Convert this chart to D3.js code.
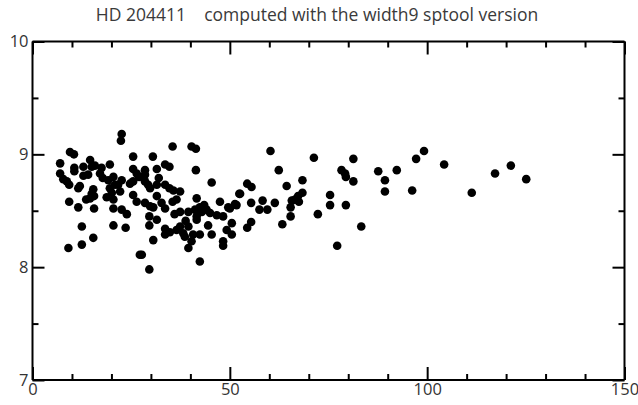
<!DOCTYPE html>
<html>
<head>
<meta charset="utf-8">
<script src="https://cdn.jsdelivr.net/npm/d3@7"></script>
<style>
  body { margin: 0; background: #fff; }
  svg { display: block; }
</style>
</head>
<body>
<svg id="chart"></svg>
<script>
// values
const titleText = "HD 204411    computed with the width9 sptool version";
const xMajor = [0, 50, 100, 150];
const xMinor = [10, 20, 30, 40, 60, 70, 80, 90, 110, 120, 130, 140];
const yMajor = [7, 8, 9, 10];
const yMinor = [7.5, 8.5, 9.5];

const xs = [
    22.6, 22.4, 9.5, 10.5, 7.0, 25.5, 10.6, 10.6, 12.9, 14.6, 15.0, 15.8, 17.5, 19.6,
    7.0, 7.8, 8.7, 9.3, 12.9, 14.1, 17.1, 17.8, 19.2, 20.5, 22.6, 21.7, 24.7, 25.5,
    12.0, 11.6, 15.4, 15.0, 14.6, 13.6, 15.6, 19.6, 20.1, 18.8, 20.5, 22.2, 20.9, 25.5,
    26.4, 9.3, 11.6, 15.6, 20.5, 22.6, 23.9, 12.5, 20.5, 23.6, 15.4, 12.5, 9.1, 27.2,
    35.5, 40.3, 41.4, 30.5, 33.6, 34.7, 31.5, 41.4, 45.4, 25.5, 26.4, 28.5, 28.5, 28.5,
    29.3, 29.8, 31.5, 33.6, 34.7, 35.7, 37.4, 28.5, 29.8, 30.6, 31.5, 32.7, 33.6, 35.5,
    36.5, 41.6, 47.5, 49.6, 51.7, 52.6, 37.4, 39.5, 41.2, 42.4, 42.9, 44.1, 45.0, 46.7,
    48.3, 29.6, 31.5, 41.6, 41.6, 29.6, 44.5, 50.5, 33.6, 33.6, 34.8, 36.5, 37.4, 38.2,
    39.5, 40.7, 38.6, 42.4, 45.4, 49.2, 50.5, 30.6, 40.3, 39.5, 48.3, 48.3, 27.7, 42.4,
    29.6, 36.0, 38.8, 43.5, 32.0, 27.0,
    60.3, 71.3, 81.3, 87.6, 62.4, 78.3, 79.2, 79.4, 81.3, 54.4, 55.5, 64.4, 68.4, 52.4,
    68.4, 67.3, 75.4, 51.3, 50.0, 55.4, 58.3, 61.4, 57.5, 59.5, 65.7, 66.5, 65.4, 67.5,
    75.4, 79.4, 72.3, 65.4, 63.3, 55.4, 54.4, 83.3, 77.2,
    99.2, 97.2, 104.3, 92.3, 89.3, 89.3, 96.2, 111.3, 117.2, 121.2, 125.1
];
const ys = [
    9.18, 9.12, 9.02, 9.00, 8.92, 8.98, 8.88, 8.85, 8.89, 8.95, 8.89, 8.90, 8.88, 8.91,
    8.83, 8.78, 8.76, 8.73, 8.81, 8.82, 8.83, 8.79, 8.77, 8.80, 8.77, 8.73, 8.74, 8.76,
    8.72, 8.70, 8.69, 8.65, 8.61, 8.60, 8.63, 8.70, 8.66, 8.62, 8.60, 8.67, 8.73, 8.64,
    8.58, 8.58, 8.53, 8.52, 8.52, 8.51, 8.47, 8.36, 8.37, 8.35, 8.26, 8.20, 8.17, 8.11,
    9.07, 9.07, 9.05, 8.98, 8.91, 8.89, 8.87, 8.86, 8.75, 8.87, 8.83, 8.86, 8.82, 8.76,
    8.73, 8.70, 8.73, 8.73, 8.70, 8.68, 8.67, 8.57, 8.54, 8.53, 8.63, 8.57, 8.52, 8.58,
    8.60, 8.61, 8.58, 8.53, 8.55, 8.65, 8.49, 8.49, 8.51, 8.53, 8.49, 8.51, 8.48, 8.46,
    8.45, 8.45, 8.42, 8.45, 8.42, 8.37, 8.37, 8.39, 8.34, 8.29, 8.31, 8.33, 8.36, 8.30,
    8.36, 8.29, 8.27, 8.29, 8.29, 8.33, 8.29, 8.24, 8.23, 8.17, 8.23, 8.19, 8.11, 8.05,
    7.98, 8.47, 8.41, 8.55, 8.79, 8.80,
    9.03, 8.97, 8.96, 8.85, 8.86, 8.86, 8.83, 8.80, 8.76, 8.74, 8.71, 8.72, 8.77, 8.65,
    8.66, 8.63, 8.64, 8.56, 8.52, 8.57, 8.59, 8.57, 8.51, 8.51, 8.59, 8.60, 8.53, 8.58,
    8.55, 8.55, 8.47, 8.45, 8.38, 8.40, 8.35, 8.36, 8.19,
    9.03, 8.96, 8.91, 8.86, 8.77, 8.67, 8.68, 8.66, 8.83, 8.90, 8.78
];

// sizes
const width = 638;
const height = 405;
const plotLeft = 32.5, plotRight = 624.5, plotTop = 41.5, plotBottom = 380;

const svg = d3.select("#chart")
    .attr("width", width)
    .attr("height", height);

const x = d3.scaleLinear().domain([0, 150]).range([plotLeft, plotRight]);
const y = d3.scaleLinear().domain([7, 10]).range([plotBottom, plotTop]);

// title (keep the run of spaces)
svg.append("text")
    .attr("x", 317)
    .attr("y", 21)
    .attr("text-anchor", "middle")
    .attr("xml:space", "preserve")
    .style("white-space", "pre")
    .style("font-family", "'Open Sans', sans-serif")
    .style("font-size", "17.5px")
    .style("fill", "#3a3a3a")
    .text(titleText);

// points
svg.append("g")
    .selectAll("circle")
    .data(xs.map((v, i) => [v, ys[i]]))
    .enter()
    .append("circle")
    .attr("cx", d => x(d[0]))
    .attr("cy", d => y(d[1]))
    .attr("r", 4.3)
    .attr("fill", "#000");

// axes, ticks point inwards
function addAxis(axis, tx, ty) {
    const g = svg.append("g")
        .attr("transform", "translate(" + tx + "," + ty + ")")
        .call(axis);
    g.selectAll("path, line")
        .attr("stroke", "#000")
        .attr("stroke-width", 2);
    return g;
}

const hLine = "M" + plotLeft + ",0H" + plotRight;
const vLine = "M0," + plotBottom + "V" + plotTop;

addAxis(d3.axisBottom(x).tickValues(xMajor).tickSize(-13).tickPadding(3).tickFormat(d3.format("d")), 0, plotBottom)
    .select(".domain").attr("d", hLine);
addAxis(d3.axisBottom(x).tickValues(xMinor).tickSize(-6).tickFormat(""), 0, plotBottom)
    .select(".domain").remove();
addAxis(d3.axisTop(x).tickValues(xMajor).tickSize(-13).tickFormat(""), 0, plotTop)
    .select(".domain").attr("d", hLine);
addAxis(d3.axisTop(x).tickValues(xMinor).tickSize(-6).tickFormat(""), 0, plotTop)
    .select(".domain").remove();

addAxis(d3.axisLeft(y).tickValues(yMajor).tickSize(-12).tickPadding(4).tickFormat(d3.format("d")), plotLeft, 0)
    .select(".domain").attr("d", vLine);
addAxis(d3.axisLeft(y).tickValues(yMinor).tickSize(-6).tickFormat(""), plotLeft, 0)
    .select(".domain").remove();
addAxis(d3.axisRight(y).tickValues(yMajor).tickSize(-12).tickFormat(""), plotRight, 0)
    .select(".domain").attr("d", vLine);
addAxis(d3.axisRight(y).tickValues(yMinor).tickSize(-6).tickFormat(""), plotRight, 0)
    .select(".domain").remove();

svg.selectAll(".tick text")
    .style("font-family", "'Open Sans', sans-serif")
    .style("font-size", "16.5px")
    .attr("fill", "#333");
</script>
</body>
</html>
